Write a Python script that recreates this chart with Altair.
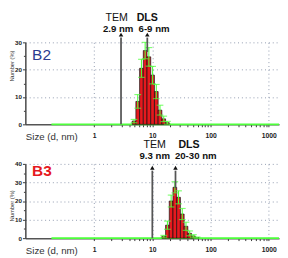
import altair as alt
import pandas as pd

# ---- data ----
b2_size = [4.849, 5.615, 6.503, 7.531, 8.721, 10.1, 11.7, 13.54, 15.69, 18.17]
b2_num = [1.2, 8.4, 20.5, 27.0, 24.7, 18.0, 12.0, 5.2, 2.0, 0.6]
b2_err = [0.6, 2.5, 3.3, 3.0, 3.4, 3.2, 2.6, 1.8, 1.0, 0.5]

b3_size = [15.69, 18.17, 21.04, 24.36, 28.21, 32.67, 37.84, 43.82, 50.75, 58.77]
b3_num = [1.0, 7.0, 20.0, 27.4, 22.0, 13.0, 6.4, 2.6, 1.2, 0.3]
b3_err = [0.5, 2.2, 3.2, 3.0, 3.5, 3.0, 2.2, 1.3, 0.7, 0.3]

bin_ratio = 1.158
x_domain = [0.066, 1500]
green_start = [0.185]
x_ticks = [k * 10 ** e for e in range(0, 4) for k in range(1, 10) if k * 10 ** e <= 1000]

b2_arrows = {"x": [2.9, 8.2], "y0": [0, 26.5]}
b3_arrows = {"x": [10.0, 25.0], "y0": [0, 27.0]}
b2_text = ["TEM", "2.9 nm", "DLS", "6-9 nm"]
b3_text = ["TEM", "9.3 nm", "DLS", "20-30 nm"]

RED = "#e5191e"
GREEN = "#4dff3a"
GRID = "#8e98ad"
FONT = "Liberation Sans"
NARROW = "Liberation Sans Narrow, Liberation Sans"

decade = "abs(log(datum.value)/LN10 - round(log(datum.value)/LN10)) < 0.01"


def make_panel(size, num, err, arrows, texts, ymax, h, label, label_color, label_bold,
               label_y, tip_px, txt_y, txt_dx, title_y):
    xs = alt.Scale(type="log", domain=x_domain, nice=False)
    ys = alt.Scale(domain=[0, ymax], nice=False)
    x_axis = alt.Axis(
        values=x_ticks,
        labelExpr=f"{decade} ? format(datum.value, 'd') : ''",
        labelOverlap=False, labelFlush=False,
        grid=True,
        gridOpacity={"condition": {"test": decade, "value": 1}, "value": 0},
        gridDash=[1, 3], gridColor=GRID, gridWidth=1,
        tickSize=2.5, tickColor="#333", tickWidth=1,
        domainColor="#555", domainWidth=1.5,
        labelFontSize=7, labelFontWeight="bold", labelPadding=5, labelColor="#222",
        labelFont=FONT,
        title="Size (d, nm)", titleX=0, titleY=12.5, titleAlign="left",
        titleAnchor="start", titleBaseline="middle", titleFontSize=10,
        titleFontWeight="normal", titleColor="#333", titleFont=FONT,
    )
    major = "datum.value % 10 == 0"
    y_axis = alt.Axis(
        values=list(range(0, ymax + 1, 5)),
        labelExpr=f"{major} ? datum.label : ''",
        labelOverlap=False, labelFlush=False,
        tickSize={"condition": {"test": major, "value": 3}, "value": 2},
        tickColor="#333",
        grid=True,
        gridOpacity={"condition": {"test": f"{major} && datum.value > 0", "value": 1}, "value": 0},
        gridDash=[1, 3], gridColor=GRID,
        domainColor="#444", domainWidth=1.5,
        labelFontSize=6.5, labelFontWeight="bold", labelPadding=1, labelColor="#222",
        labelFont=FONT,
        title="Number (%)", titleFontSize=6, titleFontWeight="normal",
        titleX=-14.5, titleY=title_y, titleAngle=-90, titleAlign="center",
        titleBaseline="middle", titleColor="#333", titleFont=FONT,
    )

    df = pd.DataFrame({"size": size, "num": num, "err": err})
    base = alt.Chart(df).transform_calculate(
        lo=f"datum.size / sqrt({bin_ratio})",
        hi=f"datum.size * sqrt({bin_ratio})",
        up="datum.num + datum.err",
        dn="max(0, datum.num - datum.err)",
    )

    def X(f):
        return alt.X(f, type="quantitative", scale=xs, axis=x_axis)

    def Y(f):
        return alt.Y(f, type="quantitative", scale=ys, axis=y_axis)

    bars = base.mark_bar(color=RED, stroke="#111", strokeWidth=0.7).encode(
        x=X("lo"), x2="hi:Q", y=Y("num"), y2=alt.datum(0),
    )
    gline = alt.Chart(pd.DataFrame({"a": green_start, "b": [x_domain[1]]})).mark_rule(
        color=GREEN, strokeWidth=1.8).encode(
        x=X("a"), x2="b:Q", y=alt.datum(0, scale=ys, axis=y_axis))
    erule = base.mark_rule(color=GREEN, strokeWidth=1.1).encode(x=X("size"), y=Y("dn"), y2="up:Q")
    cap_up = base.mark_tick(orient="horizontal", color=GREEN, size=7, thickness=1.2).encode(
        x=X("size"), y=Y("up"))
    cap_dn = base.mark_tick(orient="horizontal", color=GREEN, size=7, thickness=1.2).encode(
        x=X("size"), y=Y("dn"))

    adf = pd.DataFrame(arrows)
    arule = alt.Chart(adf).mark_rule(color="#555", strokeWidth=1.8).encode(
        x=X("x"), y=Y("y0"), y2=alt.value(tip_px + 3))
    ahead = alt.Chart(adf).mark_point(shape="triangle-up", filled=True, color="#111",
                                      size=22, opacity=1).encode(x=X("x"), y=alt.value(tip_px))

    layers = [gline, bars, erule, cap_up, cap_dn, arule, ahead]
    for i, t in enumerate(texts):
        row = adf.iloc[[i // 2]].assign(t=t)
        if i == 0:
            style = dict(font=NARROW, fontSize=11, fontWeight="normal")
        elif i == 2:
            style = dict(font=NARROW, fontSize=11, fontWeight="bold")
        else:
            style = dict(font=FONT, fontSize=10, fontWeight="bold")
        layers.append(
            alt.Chart(row).mark_text(
                color="#111", dx=txt_dx[i], baseline="middle", align="center", **style
            ).encode(x=X("x"), y=alt.value(txt_y[i]), text="t:N")
        )
    layers.append(
        alt.Chart(pd.DataFrame({"t": [label]})).mark_text(
            font=FONT, fontSize=16, fontWeight="bold" if label_bold else "normal",
            color=label_color, align="left", baseline="middle",
        ).encode(x=alt.value(7), y=alt.value(label_y), text="t:N")
    )
    return alt.layer(*layers).properties(width=263, height=h)


top = make_panel(b2_size, b2_num, b2_err, b2_arrows, b2_text, 30, 85, "B2", "#2b3b8e", False,
                 label_y=13, tip_px=-8, txt_y=[-25, -14, -25, -14], txt_dx=[-4.5, -3, 0, 7],
                 title_y=24)
bottom = make_panel(b3_size, b3_num, b3_err, b3_arrows, b3_text, 40, 77, "B3", "#e5191e", True,
                    label_y=8, tip_px=4, txt_y=[-19.5, -8.5, -19.5, -8.5],
                    txt_dx=[2.5, 2.5, 14, 21], title_y=43)

chart = alt.vconcat(top, bottom, spacing=-3).properties(padding=0).configure_view(stroke=None)

chart.save("out.html", embed_options={"renderer": "svg", "actions": False})
